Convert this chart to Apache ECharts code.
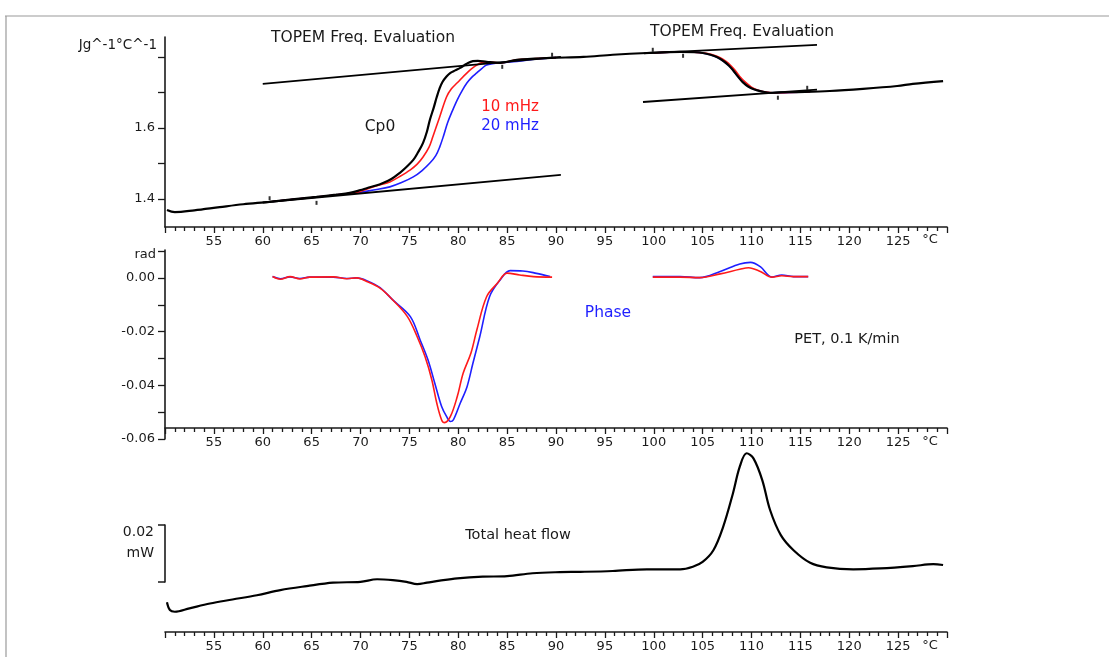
<!DOCTYPE html>
<html>
<head>
<meta charset="utf-8">
<script src="https://cdn.jsdelivr.net/npm/echarts@6/dist/echarts.min.js"></script>
<style>
html,body{margin:0;padding:0;background:#fff;}
#chart{width:1109px;height:657px;}
</style>
</head>
<body>
<div id="chart"></div>
<script>
// ---------- data ----------
const X_MIN = 50, X_MAX = 130, X_STEP = 5;      // °C
const hiddenTempLabels = [50, 130];

// Top panel: reversing heat capacity, J g^-1 °C^-1
const cp0 = [
  [50.2,1.369],[51.0,1.363],[53.0,1.368],[55.6,1.377],[58.0,1.385],[60.7,1.392],[63.0,1.399],[65.5,1.406],
  [67.5,1.412],[68.9,1.417],[70.0,1.425],[70.7,1.431],[71.5,1.437],[72.3,1.445],[73.2,1.457],[74.0,1.473],
  [74.7,1.490],[75.4,1.510],[75.9,1.532],[76.4,1.558],[76.8,1.590],[77.1,1.623],[77.5,1.658],[77.8,1.687],
  [78.1,1.712],[78.4,1.730],[78.8,1.745],[79.2,1.755],[79.7,1.762],[80.2,1.769],[80.6,1.776],[81.0,1.783],
  [81.5,1.788],[82.0,1.789],[82.9,1.786],[84.3,1.783],[86.0,1.792],[89.4,1.797],[92.8,1.800],[95.8,1.806],
  [99.3,1.811],[102.7,1.814],[104.2,1.813],[105.0,1.811],[105.8,1.806],[106.5,1.799],[107.2,1.787],
  [107.7,1.775],[108.1,1.763],[108.6,1.745],[109.1,1.729],[109.7,1.716],[110.3,1.708],[111.0,1.703],
  [111.9,1.699],[113.0,1.700],[114.7,1.701],[118.0,1.704],[121.4,1.710],[124.9,1.718],[126.5,1.724],[129.6,1.732]
];
const cp10mHz = [
  [61,1.393],[65,1.404],[68,1.413],[69.6,1.418],[71.5,1.436],[73.0,1.448],[74.0,1.463],[75.1,1.482],
  [75.8,1.498],[76.4,1.518],[77.0,1.545],[77.4,1.575],[78.1,1.631],[78.8,1.687],[79.3,1.710],[79.9,1.727],
  [80.9,1.755],[81.9,1.777],[82.9,1.786],[84.3,1.783],[86,1.792],[88,1.795],[90,1.798],
  [95,null],
  [100,1.811],[103,1.814],[105.2,1.811],[106.0,1.806],[106.7,1.799],[107.4,1.787],[107.9,1.775],
  [108.3,1.763],[108.8,1.745],[109.4,1.728],[110.0,1.715],[110.6,1.707],[111.3,1.702],[112.2,1.699],
  [114,1.700],[116,1.702]
];
const cp20mHz = [
  [61,1.393],[65,1.404],[68,1.413],[70.2,1.420],[71.5,1.426],[73.0,1.434],[74.2,1.446],[75.4,1.462],
  [76.3,1.480],[77.1,1.501],[77.7,1.522],[78.1,1.546],[78.5,1.578],[78.9,1.614],[79.4,1.648],[79.9,1.679],
  [80.4,1.705],[80.9,1.727],[81.4,1.743],[81.9,1.755],[82.4,1.767],[82.9,1.777],[84.0,1.783],[86,1.787],
  [88,1.794],[90,1.798],
  [95,null],
  [100,1.811],[103,1.814],[105.0,1.811],[106.5,1.799],[107.7,1.775],[108.6,1.745],[109.7,1.716],
  [111.0,1.703],[111.9,1.699],[114,1.700],[116,1.702]
];
const tangentUpperLeft = [[60,1.724],[90.5,1.800]];
const tangentLowerLeft = [[60,1.390],[90.5,1.468]];
const tangentUpperRight = [[99,1.810],[116.7,1.834]];
const tangentLowerRight = [[98.9,1.673],[116.7,1.708]];
const evalMarks = [[60.7,1.402],[65.5,1.389],[84.5,1.772],[89.6,1.806],[99.9,1.820],[103.0,1.803],[112.7,1.685],[115.7,1.713]];
const cpTicks = [1.4, 1.5, 1.6, 1.7, 1.8];
const cpLabels = [1.4, 1.6];

// Middle panel: phase, rad
const phase10mHz = [
  [61.0,0.0005],[61.8,-0.0005],[62.8,0.0005],[63.8,-0.0004],[64.8,0.0003],[67.2,0.0004],[68.6,-0.0003],
  [69.6,0.0],[70.7,-0.0014],[72.0,-0.0038],[73.3,-0.0082],[74.8,-0.0144],[75.8,-0.0219],[76.6,-0.0293],
  [77.3,-0.0380],[77.8,-0.0466],[78.3,-0.0529],[78.6,-0.0539],[79.2,-0.0516],[79.9,-0.0442],[80.5,-0.0355],
  [81.3,-0.0280],[81.9,-0.0194],[82.9,-0.0070],[84.0,-0.0020],[85.0,0.0018],[86.3,0.0011],[87.7,0.0005],[89.6,0.0003],
  [95,null],
  [99.9,0.0003],[102.7,0.0003],[104.7,0.0001],[106.8,0.0015],[108.8,0.0032],[109.7,0.0038],[110.9,0.0024],
  [112.1,0.0003],[113.1,0.0008],[114.3,0.0005],[115.8,0.0005]
];
const phase20mHz = [
  [61.0,0.0005],[61.8,-0.0003],[62.8,0.0004],[63.8,-0.0002],[64.8,0.0003],[67.2,0.0003],[68.6,-0.0002],
  [69.6,0.0],[70.7,-0.0011],[72.0,-0.0036],[73.3,-0.0082],[75.1,-0.0144],[76.1,-0.0231],[76.9,-0.0305],
  [77.6,-0.0392],[78.3,-0.0479],[78.8,-0.0516],[79.2,-0.0535],[79.5,-0.0529],[80.2,-0.0467],[80.9,-0.0405],
  [81.5,-0.0318],[82.2,-0.0219],[83.2,-0.0070],[84.3,-0.0007],[85.3,0.0027],[86.6,0.0026],[88.0,0.0017],[89.4,0.0005],
  [95,null],
  [99.9,0.0005],[102.7,0.0005],[104.7,0.0001],[106.8,0.0024],[108.8,0.0052],[109.9,0.0058],[110.9,0.0042],
  [112.1,0.0003],[113.1,0.0011],[114.3,0.0005],[115.8,0.0005]
];
const phaseTicks = [-0.06, -0.05, -0.04, -0.03, -0.02, -0.01, 0, 0.01];
const phaseLabels = [-0.06, -0.04, -0.02, 0];

// Bottom panel: total heat flow, mW (offset arbitrary)
const heatFlow = [
  [50.2,0.0129],[50.5,0.0102],[51.0,0.0096],[52.5,0.0108],[54.6,0.0125],[56.9,0.0139],[59.4,0.0154],
  [61.8,0.0172],[64.5,0.0186],[67.2,0.0198],[70.0,0.0201],[71.7,0.0210],[73.3,0.0207],[74.7,0.0201],
  [75.8,0.0193],[76.8,0.0198],[78.1,0.0205],[79.9,0.0213],[82.5,0.0219],[85.0,0.0221],[87.6,0.0231],
  [90.4,0.0235],[92.5,0.0236],[95.8,0.0239],[99.3,0.0245],[102.7,0.0245],[104.0,0.0254],[105.0,0.0271],
  [106.1,0.0312],[107.1,0.0394],[108.1,0.0511],[108.8,0.0605],[109.5,0.0652],[110.2,0.0634],[111.1,0.0558],
  [111.9,0.0453],[113.0,0.0365],[114.3,0.0312],[116.0,0.0268],[117.7,0.0252],[120.4,0.0245],[123.2,0.0248],
  [126.5,0.0256],[128.6,0.0263],[129.6,0.0260]
];
const scaleBar = [0, 0.02]; // mW

// ---------- layout helpers ----------
const FONT = 'DejaVu Sans';
const INK = '#1a1a1a';
const LEFT = 165, RIGHT = 162;

function xAxisFor(gridIndex, offset) {
  return {
    type: 'value', gridIndex: gridIndex, min: X_MIN, max: X_MAX, interval: X_STEP,
    position: 'bottom', offset: offset, splitLine: {show: false},
    axisLine: {show: true, onZero: false, lineStyle: {color: INK, width: 1.6}},
    axisTick: {show: true, length: 6, lineStyle: {color: INK, width: 1.3}},
    minorTick: {show: true, splitNumber: 5, length: 4, lineStyle: {color: INK, width: 1.3}},
    minorSplitLine: {show: false},
    axisLabel: {show: true, color: INK, fontSize: 13, fontFamily: FONT, margin: 8,
      formatter: v => hiddenTempLabels.indexOf(v) >= 0 ? '' : String(v)}
  };
}

const text = (x, y, str, opts) => ({
  type: 'text', x: x, y: y, silent: true,
  style: Object.assign({text: str, fill: INK, font: '15px "' + FONT + '"', textAlign: 'center', textVerticalAlign: 'middle'}, opts || {})
});

const lineSeries = (name, data, color, width, xi, yi, z) => ({
  name: name, type: 'line', data: data, xAxisIndex: xi, yAxisIndex: yi, showSymbol: false,
  smooth: 0.35, connectNulls: false, z: z || 2,
  lineStyle: {color: color, width: width}, itemStyle: {color: color}, animation: false
});
const straight = (data, xi, yi) => Object.assign(lineSeries('tangent', data, '#000', 1.8, xi, yi, 4), {smooth: false});

const option = {
  animation: false,
  backgroundColor: '#fff',
  grid: [
    {left: LEFT, right: RIGHT, top: 37, height: 190, outerBoundsMode: 'none'},
    {left: LEFT, right: RIGHT, top: 250, height: 189, outerBoundsMode: 'none'},
    {left: LEFT, right: RIGHT, top: 445, height: 187, outerBoundsMode: 'none'},
    {left: 165, width: 20, top: 525, height: 57, outerBoundsMode: 'none'}
  ],
  xAxis: [
    xAxisFor(0, 0),
    xAxisFor(1, -11),
    xAxisFor(2, 0),
    {type: 'value', gridIndex: 3, min: 0, max: 1, show: false}
  ],
  yAxis: [
    {type: 'value', gridIndex: 0, min: 1.321, max: 1.856,
      axisLine: {show: true, onZero: false, lineStyle: {color: INK, width: 1.6}},
      axisTick: {show: true, customValues: cpTicks, length: 7, lineStyle: {color: INK, width: 1.3}},
      axisLabel: {show: true, customValues: cpLabels, formatter: v => v.toFixed(1), color: INK, fontSize: 13, fontFamily: FONT, margin: 10},
      splitLine: {show: false}},
    {type: 'value', gridIndex: 1, min: -0.06, max: 0.0104,
      axisLine: {show: true, onZero: false, lineStyle: {color: INK, width: 1.6}},
      axisTick: {show: true, customValues: phaseTicks, length: 7, lineStyle: {color: INK, width: 1.3}},
      axisLabel: {show: true, customValues: phaseLabels, formatter: v => v.toFixed(2), color: INK, fontSize: 13, fontFamily: FONT, margin: 10},
      splitLine: {show: false}},
    {type: 'value', gridIndex: 2, min: 0.0025, max: 0.0681, show: false},
    {type: 'value', gridIndex: 3, min: scaleBar[0], max: scaleBar[1],
      axisLine: {show: true, onZero: false, lineStyle: {color: INK, width: 1.6}},
      axisTick: {show: true, customValues: scaleBar, length: 7, lineStyle: {color: INK, width: 1.5}},
      axisLabel: {show: false}, splitLine: {show: false}}
  ],
  series: [
    // top panel
    lineSeries('20 mHz', cp20mHz, '#1f1fff', 1.6, 0, 0, 2),
    lineSeries('10 mHz', cp10mHz, '#ff1a1a', 1.6, 0, 0, 3),
    lineSeries('Cp0', cp0, '#000', 2.2, 0, 0, 4),
    straight(tangentUpperLeft, 0, 0),
    straight(tangentLowerLeft, 0, 0),
    straight(tangentUpperRight, 0, 0),
    straight(tangentLowerRight, 0, 0),
    {type: 'scatter', data: evalMarks, xAxisIndex: 0, yAxisIndex: 0, symbol: 'rect', symbolSize: [2, 4],
      itemStyle: {color: '#000'}, z: 5, animation: false},
    // middle panel
    lineSeries('Phase 20 mHz', phase20mHz, '#1f1fff', 1.6, 1, 1, 2),
    lineSeries('Phase 10 mHz', phase10mHz, '#ff1a1a', 1.6, 1, 1, 3),
    // bottom panel
    lineSeries('Total heat flow', heatFlow, '#000', 2.2, 2, 2, 3)
  ],
  graphic: [
    {type: 'line', shape: {x1: 5, y1: 16, x2: 1109, y2: 16}, style: {stroke: '#9a9a9a', lineWidth: 1.2}, silent: true},
    {type: 'line', shape: {x1: 6, y1: 16, x2: 6, y2: 657}, style: {stroke: '#9a9a9a', lineWidth: 1.2}, silent: true},
    text(157, 45, 'Jg^-1°C^-1', {font: '13.5px "' + FONT + '"', textAlign: 'right'}),
    text(156, 255, 'rad', {font: '13px "' + FONT + '"', textAlign: 'right'}),
    text(363, 38, 'TOPEM Freq. Evaluation', {font: '15.5px "' + FONT + '"'}),
    text(742, 32, 'TOPEM Freq. Evaluation', {font: '15.5px "' + FONT + '"'}),
    text(380, 127, 'Cp0', {font: '15.5px "' + FONT + '"'}),
    text(510, 107, '10 mHz', {fill: '#ff1a1a'}),
    text(510, 126, '20 mHz', {fill: '#1f1fff'}),
    text(608, 313, 'Phase', {fill: '#1f1fff', font: '15.5px "' + FONT + '"'}),
    text(847, 339, 'PET, 0.1 K/min', {font: '14.5px "' + FONT + '"'}),
    text(518, 535, 'Total heat flow', {font: '14.5px "' + FONT + '"'}),
    text(154, 532, '0.02', {font: '14px "' + FONT + '"', textAlign: 'right'}),
    text(154, 553, 'mW', {font: '14px "' + FONT + '"', textAlign: 'right'}),
    text(930, 240, '°C', {font: '13px "' + FONT + '"'}),
    text(930, 442, '°C', {font: '13px "' + FONT + '"'}),
    text(930, 646, '°C', {font: '13px "' + FONT + '"'})
  ]
};

const chart = echarts.init(document.getElementById('chart'), null, {renderer: 'canvas'});
chart.setOption(option);
</script>
</body>
</html>
